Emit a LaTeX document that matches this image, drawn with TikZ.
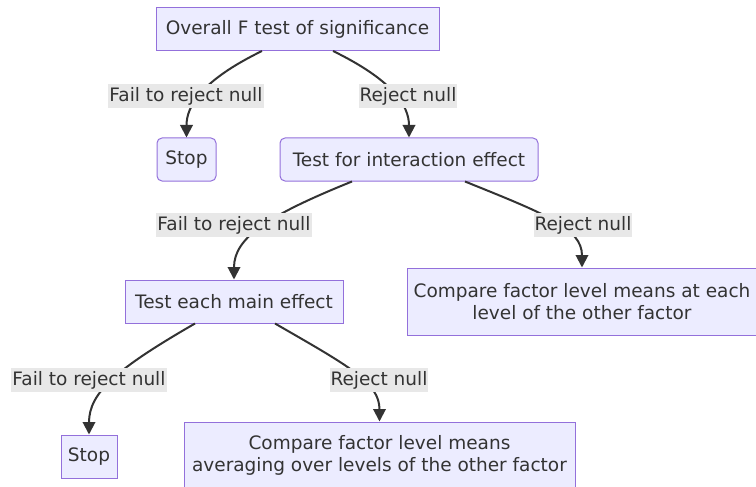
\documentclass[tikz,border=0pt]{standalone}
\usepackage{fontspec}
\setmainfont{DejaVu Sans}
\usetikzlibrary{arrows.meta}

\definecolor{boxfill}{HTML}{ECECFF}
\definecolor{boxline}{HTML}{9370DB}
\definecolor{txt}{HTML}{333333}
\definecolor{lblfill}{HTML}{E8E8E8}

\tikzset{
    stepbox/.style={draw=boxline, fill=boxfill, line width=1pt, text=txt,
        inner xsep=6pt, minimum height=43pt, align=center},
    roundbox/.style={stepbox, rounded corners=5pt},
    link/.style={->, line width=2pt, draw=txt},
    sweep/.style={out looseness=1.5, in looseness=0.7},
    edgelbl/.style={fill=lblfill, text=txt, inner xsep=1pt, inner ysep=3pt}
}

\begin{document}
\begin{tikzpicture}[x=1pt, y=-1pt, >={Triangle[length=12.5pt,width=12.5pt]},
        font=\fontsize{18.5}{21.5}\selectfont]

        \useasboundingbox (0,0) rectangle (756,487);

        % -----------------------
        % Tests
        % -----------------------
        \node[stepbox, minimum width=283pt] (overall) at (297.5, 29) {Overall F test of significance};
        \node[roundbox, minimum width=59pt] (stopA) at (186.5, 159.5) {Stop};
        \node[roundbox, minimum width=258pt] (inter) at (409, 159.5) {Test for interaction effect};
        \node[stepbox, minimum width=218pt] (mains) at (234, 301.5) {Test each main effect};

        % -----------------------
        % Outcomes
        % -----------------------
        \node[stepbox, minimum width=348pt, minimum height=67pt] (cmpeach) at (582, 301.5)
            {Compare factor level means at each\\level of the other factor};
        \node[stepbox, minimum width=56pt] (stopB) at (89, 456.5) {Stop};
        \node[stepbox, minimum width=391pt, minimum height=67pt] (cmpavg) at (379.5, 455.5)
            {Compare factor level means\\averaging over levels of the other factor};

        % -----------------------
        % Connectors
        % -----------------------
        \draw[link] ([xshift=-35.5pt]overall.south) to[out=-154, in=90, sweep] (stopA.north);
        \draw[link] ([xshift=35.5pt]overall.south) to[out=-26, in=90, sweep] (inter.north);
        \draw[link] ([xshift=-57pt]inter.south) to[out=-158, in=90, sweep] (mains.north);
        \draw[link] ([xshift=56pt]inter.south) to[out=-22, in=90, sweep] (cmpeach.north);
        \draw[link] ([xshift=-39pt]mains.south) to[out=-150, in=90, sweep] (stopB.north);
        \draw[link] ([xshift=41pt]mains.south) to[out=-30, in=90, sweep] (cmpavg.north);

        % labels sit on top of the lines
        \node[edgelbl] (lblA) at (186, 96) {Fail to reject null};
        \node[edgelbl] (lblB) at (408, 96) {Reject null};
        \node[edgelbl] (lblC) at (234, 225) {Fail to reject null};
        \node[edgelbl] (lblD) at (583, 225) {Reject null};
        \node[edgelbl] (lblE) at (89, 380) {Fail to reject null};
        \node[edgelbl] (lblF) at (379, 380) {Reject null};

    \end{tikzpicture}
\end{document}
